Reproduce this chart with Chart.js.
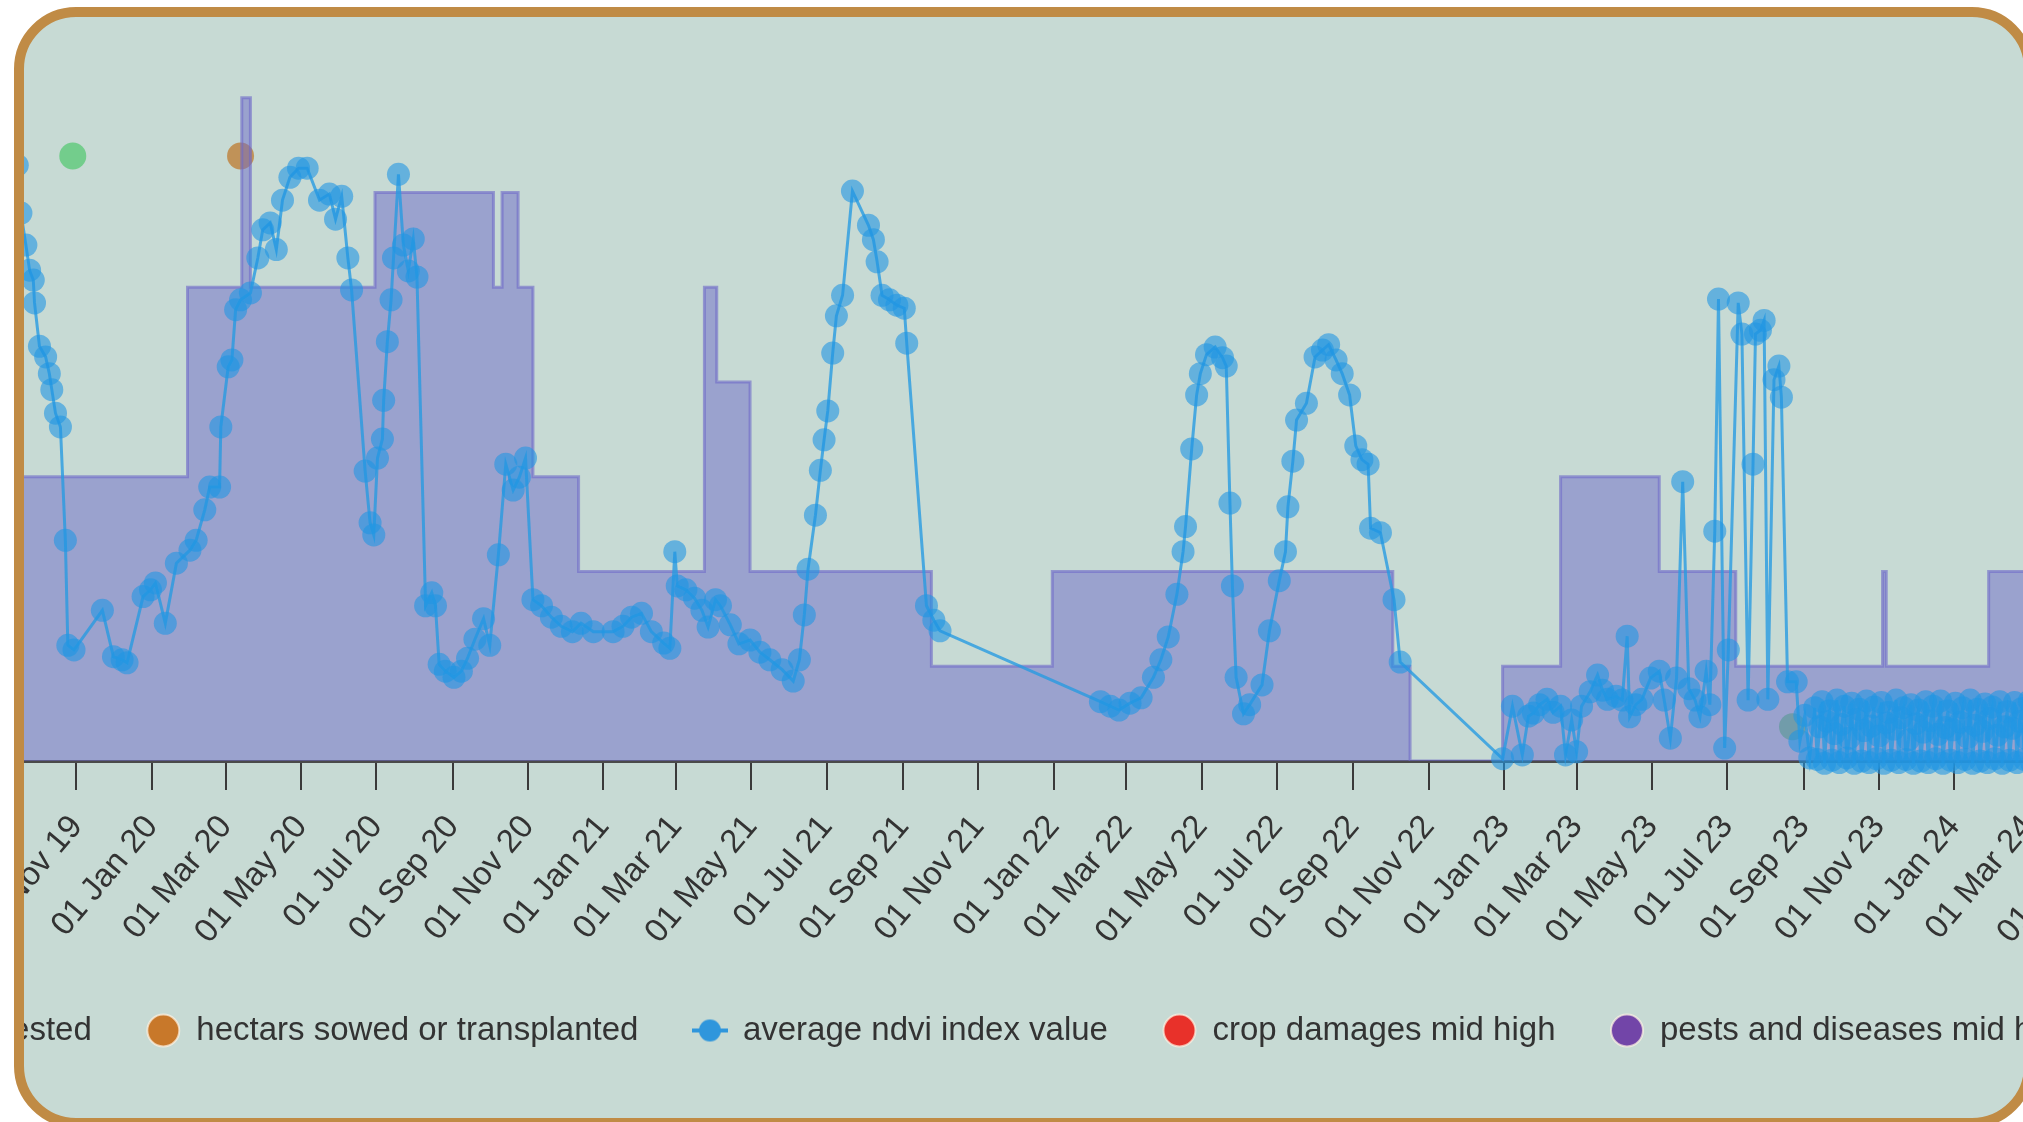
<!DOCTYPE html>
<html>
<head>
<meta charset="utf-8">
<script src="https://cdn.jsdelivr.net/npm/chart.js@4/dist/chart.umd.min.js"></script>
<style>
  html, body { margin: 0; padding: 0; background: #fff; overflow: hidden; }
  #frame {
    position: absolute; left: 14px; top: 7px; width: 2020px; height: 1121px;
    box-sizing: border-box; border: 10px solid #c08b45; border-radius: 62px;
    background: #c7dad4; overflow: hidden;
  }
  #cropChart { position: absolute; left: -299px; top: -17px; }
</style>
</head>
<body>
<div id="frame"><canvas id="cropChart" width="2775" height="1057"></canvas></div>
<script>
// x values are days counted from 1 Nov 2019
const START = Date.UTC(2019, 10, 1);

const xTickLabels = ['01 Jul 19', '01 Sep 19', '01 Nov 19',
  '01 Jan 20', '01 Mar 20', '01 May 20', '01 Jul 20', '01 Sep 20', '01 Nov 20',
  '01 Jan 21', '01 Mar 21', '01 May 21', '01 Jul 21', '01 Sep 21', '01 Nov 21',
  '01 Jan 22', '01 Mar 22', '01 May 22', '01 Jul 22', '01 Sep 22', '01 Nov 22',
  '01 Jan 23', '01 Mar 23', '01 May 23', '01 Jul 23', '01 Sep 23', '01 Nov 23',
  '01 Jan 24', '01 Mar 24', '01 May 24', '01 Jul 24'];

const ndviDay = [-48, -45, -41, -38, -35, -34, -30, -25, -22, -20, -17, -13, -9, -7, -2,
  21, 30, 37, 41, 54, 60, 64, 72, 81, 92, 97, 104, 108, 116, 117, 123, 126, 129, 133, 141,
  147, 151, 157, 162, 167, 173, 180, 187, 197, 205, 210, 215, 220, 223, 234, 238, 241, 244,
  248, 249, 252, 255, 257, 261, 265, 269, 273, 276, 283, 288, 291, 294, 299, 306, 312, 317,
  323, 330, 335, 342, 348, 354, 359, 364, 370, 377, 385, 393, 402, 409, 419, 435, 443, 450,
  458, 466, 476, 481, 485, 487, 494, 501, 507, 512, 518, 522, 530, 537, 546, 554, 562, 572,
  581, 586, 590, 593, 599, 603, 606, 609, 613, 616, 621, 629, 642, 646, 649, 653, 659, 665,
  671, 673, 689, 695, 700, 830, 838, 845, 854, 863, 873, 879, 885, 892, 897, 899, 904, 908,
  911, 916, 923, 929, 932, 935, 937, 940, 946, 951, 961, 967, 975, 980, 982, 986, 989, 997,
  1004, 1010, 1015, 1021, 1026, 1032, 1037, 1042, 1047, 1049, 1057, 1068, 1073, 1156,
  1164, 1172, 1177, 1181, 1186, 1192, 1197, 1203, 1207, 1212, 1216, 1220, 1227, 1233, 1237,
  1241, 1248, 1253, 1257, 1259, 1264, 1269, 1276, 1283, 1287, 1292, 1297, 1302, 1307, 1312,
  1316, 1321, 1324, 1328, 1331, 1336, 1339, 1347, 1350, 1355, 1359, 1361, 1365, 1368, 1371,
  1376, 1380, 1382, 1387, 1394, 1397, 1401, 1405,
  1409, 1411, 1413, 1415, 1417, 1419, 1421, 1423, 1425, 1427, 1429, 1431, 1433, 1435, 1437,
  1439, 1441, 1443, 1445, 1447, 1449, 1451, 1453, 1455, 1457, 1459, 1461, 1463, 1465, 1467,
  1469, 1471, 1473, 1475, 1477, 1479, 1481, 1483, 1485, 1487, 1489, 1491, 1493, 1495, 1497,
  1499, 1501, 1503, 1505, 1507, 1509, 1511, 1513, 1515, 1517, 1519, 1521, 1523, 1525, 1527,
  1529, 1531, 1533, 1535, 1537, 1539, 1541, 1543, 1545, 1547, 1549, 1551, 1553, 1555, 1557,
  1559, 1561, 1563, 1565, 1567, 1569, 1571, 1573, 1575, 1577, 1579, 1581, 1583, 1585, 1587,
  1589, 1591, 1593, 1595, 1597, 1599, 1601];

const ndviValue = [0.783, 0.720, 0.678, 0.645, 0.632, 0.602, 0.545, 0.531, 0.509, 0.488, 0.457, 0.439, 0.290, 0.152, 0.146,
  0.198, 0.137, 0.133, 0.129, 0.216, 0.225, 0.234, 0.181, 0.260, 0.277, 0.290, 0.330, 0.360, 0.360, 0.439, 0.518, 0.527, 0.593, 0.606, 0.615,
  0.661, 0.698, 0.707, 0.672, 0.737, 0.767, 0.779, 0.779, 0.737, 0.745, 0.712, 0.742, 0.661, 0.619, 0.381, 0.313, 0.297, 0.398,
  0.423, 0.474, 0.551, 0.606, 0.661, 0.771, 0.678, 0.644, 0.686, 0.636, 0.204, 0.221, 0.204, 0.127, 0.118, 0.110, 0.118, 0.135,
  0.160, 0.187, 0.152, 0.271, 0.390, 0.356, 0.373, 0.398, 0.212, 0.204, 0.189, 0.177, 0.170, 0.181, 0.170, 0.170, 0.177, 0.189,
  0.194, 0.170, 0.155, 0.148, 0.275, 0.230, 0.225, 0.214, 0.198, 0.176, 0.212, 0.204, 0.179, 0.154, 0.159, 0.143, 0.133, 0.120,
  0.105, 0.133, 0.192, 0.252, 0.323, 0.382, 0.422, 0.460, 0.536, 0.585, 0.612, 0.749, 0.704, 0.685, 0.656, 0.612, 0.606, 0.599,
  0.595, 0.549, 0.204, 0.185, 0.171, 0.078, 0.072, 0.067, 0.076, 0.083, 0.110, 0.133, 0.163, 0.219, 0.275, 0.308, 0.410, 0.481,
  0.509, 0.534, 0.544, 0.530, 0.519, 0.339, 0.230, 0.110, 0.062, 0.074, 0.100, 0.171, 0.237, 0.275, 0.334, 0.394, 0.448, 0.470,
  0.531, 0.540, 0.547, 0.527, 0.509, 0.481, 0.414, 0.396, 0.390, 0.306, 0.300, 0.212, 0.130, 0.003,
  0.072, 0.008, 0.059, 0.063, 0.074, 0.081, 0.064, 0.072, 0.008, 0.054, 0.012, 0.072, 0.091, 0.113, 0.093,
  0.081, 0.085, 0.080, 0.164, 0.058, 0.074, 0.081, 0.109, 0.118, 0.080, 0.030, 0.109, 0.367, 0.095, 0.080,
  0.058, 0.118, 0.074, 0.302, 0.607, 0.017, 0.146, 0.602, 0.561, 0.080, 0.390, 0.561, 0.566, 0.579, 0.081,
  0.501, 0.519, 0.478, 0.104, 0.104, 0.026, 0.060, 0.004,
  0.070, 0.002, 0.045, 0.078, -0.003, 0.052, 0.066, 0.001, 0.036, 0.080, -0.002, 0.048, 0.072, 0.004, 0.030,
  0.076, -0.003, 0.055, 0.068, 0.000, 0.040, 0.079, -0.002, 0.046, 0.071, 0.003, 0.033, 0.077, -0.003, 0.050,
  0.064, 0.001, 0.042, 0.080, -0.002, 0.057, 0.070, 0.002, 0.028, 0.074, -0.003, 0.049, 0.067, 0.000, 0.038,
  0.078, -0.002, 0.053, 0.072, 0.003, 0.035, 0.079, -0.003, 0.044, 0.066, 0.001, 0.041, 0.076, -0.002, 0.051,
  0.070, 0.002, 0.031, 0.080, -0.003, 0.047, 0.068, 0.000, 0.039, 0.075, -0.002, 0.056, 0.071, 0.003, 0.034,
  0.078, -0.003, 0.045, 0.065, 0.001, 0.043, 0.077, -0.002, 0.052, 0.069, 0.002, 0.029, 0.079, -0.003, 0.048,
  0.066, 0.000, 0.037, 0.076, -0.002, 0.054, 0.071];

// stepped area: level holds from each day until the next one
const stageDay = [-300, 90, 134, 141, 242, 338, 345, 358, 370, 407, 509, 519, 546, 693, 791,
  1067, 1081, 1156, 1203, 1283, 1345, 1464, 1467, 1550, 1965];
const stageLevel = [3, 5, 7, 5, 6, 5, 6, 5, 3, 2, 5, 4, 2, 1, 2, 1, 0, 1, 3, 2, 1, 2, 1, 2, 2];

const harvestDay = [-3, 1391];
const harvestHa = [795, 45];
const sowDay = [133];
const sowHa = [795];

const MONTHS = ['Jan', 'Feb', 'Mar', 'Apr', 'May', 'Jun', 'Jul', 'Aug', 'Sep', 'Oct', 'Nov', 'Dec'];
const dayOf = (label) => {
  const [d, m, y] = label.split(' ');
  return (Date.UTC(2000 + Number(y), MONTHS.indexOf(m), Number(d)) - START) / 864e5;
};
const tickLabelOf = new Map(xTickLabels.map(l => [dayOf(l), l]));
const toPoints = (xs, ys) => xs.map((x, i) => ({ x, y: ys[i] }));

const font = { family: "'Liberation Sans', Arial, sans-serif", size: 33 };
const legendColors = ['#4fc46e', '#c8782a', '#2f96dc', '#e8312a', '#7245a8', '#8a86c8'];

// legend marker for the ndvi line: dot with a short line through it
const ndviMarker = document.createElement('canvas');
ndviMarker.width = 36; ndviMarker.height = 26;
(() => {
  const c = ndviMarker.getContext('2d');
  c.strokeStyle = c.fillStyle = '#2f96dc';
  c.lineWidth = 4;
  c.beginPath(); c.moveTo(0, 13); c.lineTo(36, 13); c.stroke();
  c.beginPath(); c.arc(18, 13, 11, 0, Math.PI * 2); c.fill();
})();

new Chart(document.getElementById('cropChart'), {
  type: 'line',
  data: {
    datasets: [
      { label: 'hectars harvested', data: toPoints(harvestDay, harvestHa), yAxisID: 'yHa',
        showLine: false, pointRadius: 13.5, pointBorderWidth: 0,
        pointBackgroundColor: 'rgba(80,200,110,0.7)', order: 3 },
      { label: 'hectars sowed or transplanted', data: toPoints(sowDay, sowHa), yAxisID: 'yHa',
        showLine: false, pointRadius: 13.5, pointBorderWidth: 0,
        pointBackgroundColor: 'rgba(190,115,35,0.7)', order: 3 },
      { label: 'average ndvi index value', data: toPoints(ndviDay, ndviValue), yAxisID: 'yNdvi',
        borderColor: 'rgba(40,155,225,0.8)', borderWidth: 3, tension: 0,
        pointRadius: 11.5, pointBorderWidth: 0, pointBackgroundColor: 'rgba(33,150,226,0.6)',
        clip: false, order: 0 },
      { label: 'crop damages mid high', data: [], yAxisID: 'yHa', pointBackgroundColor: '#e8312a' },
      { label: 'pests and diseases mid high', data: [], yAxisID: 'yHa', pointBackgroundColor: '#7245a8' },
      { label: 'crop stage', data: toPoints(stageDay, stageLevel), yAxisID: 'yLevel',
        stepped: true, fill: 'origin', backgroundColor: 'rgba(110,105,200,0.5)',
        borderColor: 'rgba(110,105,200,0.6)', borderWidth: 3, pointRadius: 0, order: 1 }
    ]
  },
  options: {
    responsive: false,
    devicePixelRatio: 1,
    animation: false,
    events: [],
    layout: { autoPadding: false, padding: 0 },
    scales: {
      x: {
        type: 'linear', position: 'bottom', bounds: 'data',
        min: -284.9, max: 1964.5,
        afterBuildTicks: (s) => {
          s.ticks = [...tickLabelOf.keys()].filter(v => v >= s.min && v <= s.max).map(v => ({ value: v }));
        },
        afterFit: (s) => { s.height = 198; },
        ticks: {
          autoSkip: false, minRotation: 50, maxRotation: 50, padding: 18,
          color: '#333', font, callback: (v) => tickLabelOf.get(v)
        },
        grid: { drawOnChartArea: false, drawTicks: true, tickLength: 29, color: '#3a3a3a', lineWidth: 2 },
        border: { display: true, color: '#4a4a4a', width: 3 }
      },
      yLevel: { display: false, min: 0, max: 8.032 },
      yNdvi: { display: false, min: 0, max: 1 },
      yHa: { display: false, min: 0, max: 1000 }
    },
    plugins: {
      tooltip: { enabled: false },
      legend: {
        position: 'bottom', align: 'start',
        labels: {
          font, color: '#333', usePointStyle: true,
          boxWidth: 33, boxHeight: 22.6, padding: 55,
          filter: (item) => item.datasetIndex !== 5,
          sort: (a, b) => a.datasetIndex - b.datasetIndex,
          generateLabels: (chart) => {
            const items = Chart.defaults.plugins.legend.labels.generateLabels(chart);
            items.forEach(it => {
              it.fillStyle = legendColors[it.datasetIndex];
              it.strokeStyle = 'rgba(255,244,228,0.7)';
              it.lineWidth = 2;
              if (it.datasetIndex === 2) it.pointStyle = ndviMarker;
            });
            return items;
          }
        }
      }
    }
  }
});
</script>
</body>
</html>
